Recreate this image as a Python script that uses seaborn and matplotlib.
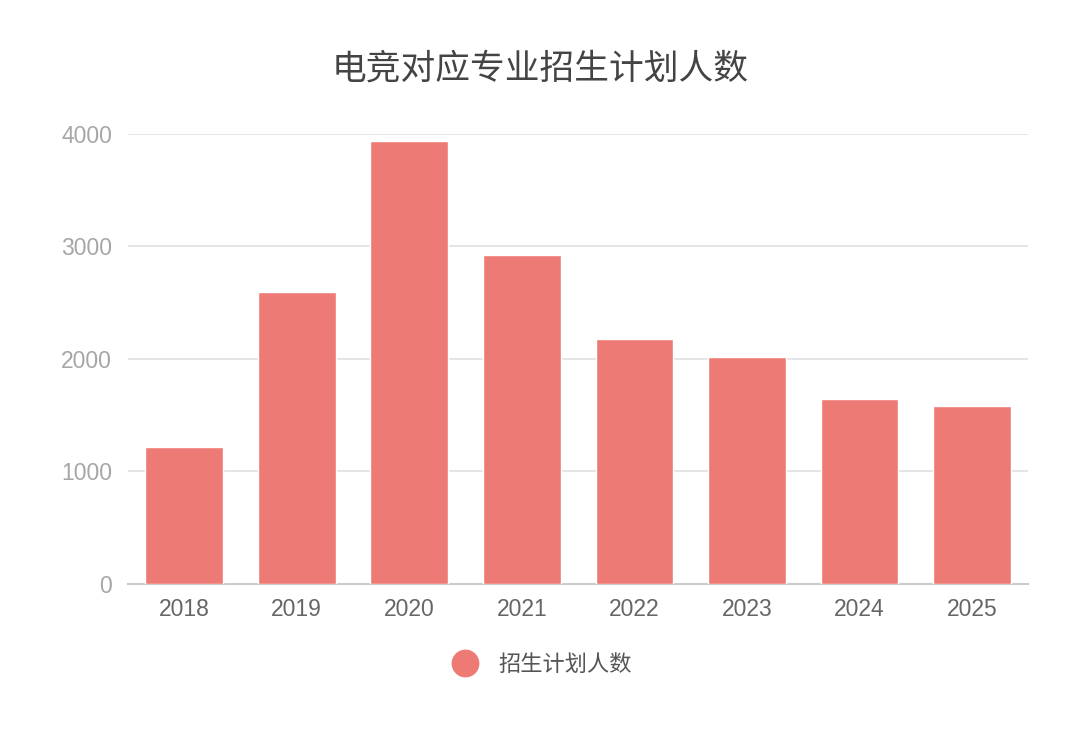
import seaborn as sns
import matplotlib.pyplot as plt
import pandas as pd
from matplotlib.lines import Line2D

# data
years = ["2018", "2019", "2020", "2021", "2022", "2023", "2024", "2025"]
plan_counts = [1215, 2590, 3935, 2925, 2180, 2015, 1640, 1580]
series_name = "招生计划人数"
title = "电竞对应专业招生计划人数"
y_ticks = [0, 1000, 2000, 3000, 4000]

df = pd.DataFrame({"year": years, "count": plan_counts})

sns.set_theme(style="white")
plt.rcParams["font.family"] = ["Liberation Sans", "Noto Sans CJK SC", "DejaVu Sans"]

bar_color = "#ee7a76"

fig = plt.figure(figsize=(10.8, 7.43), dpi=100)
ax = fig.add_axes([0.1185, 0.214, 0.8335, 0.606])

sns.barplot(data=df, x="year", y="count", color=bar_color, width=0.69,
            saturation=1, ax=ax, zorder=3)

ax.set_ylim(0, 4000)
ax.set_xlim(-0.5, len(years) - 0.5)
ax.set_yticks(y_ticks)
ax.set_yticklabels([str(t) for t in y_ticks])
ax.set_xlabel("")
ax.set_ylabel("")

# horizontal grid lines
ax.yaxis.grid(True, color="#e0e0e3", linewidth=1.2, zorder=0)
ax.xaxis.grid(False)
for side in ["top", "right", "left"]:
    ax.spines[side].set_visible(False)
ax.spines["bottom"].set_color("#cccccc")
ax.spines["bottom"].set_linewidth(1.5)

ax.tick_params(axis="y", length=0, pad=11.5, labelsize=16.5, labelcolor="#a6a6a6")
ax.tick_params(axis="x", length=0, pad=10, labelsize=16.5, labelcolor="#666666")

fig.suptitle(title, x=0.5, y=0.93, fontsize=25, color="#444444",
             family=["Noto Sans CJK SC", "DejaVu Sans"])

# legend with a round marker below the plot
handle = Line2D([0], [0], marker="o", linestyle="", markersize=19,
                markerfacecolor=bar_color, markeredgecolor=bar_color)
leg = fig.legend([handle], [series_name], loc="center", bbox_to_anchor=(0.5, 0.106),
                 frameon=False, handletextpad=0.7, handlelength=1.6,
                 prop={"family": ["Noto Sans CJK SC", "DejaVu Sans"], "size": 16})
for t in leg.get_texts():
    t.set_color("#555555")

fig.savefig("out.png", dpi=100, facecolor="white")
